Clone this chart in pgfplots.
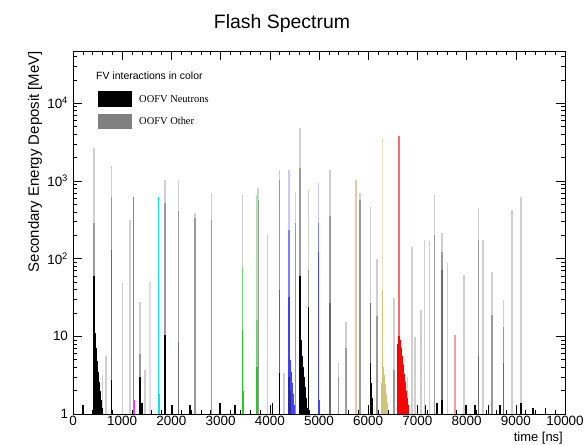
\documentclass[border=0pt]{standalone}
\usepackage{fontspec}
\setmainfont{Liberation Sans}
\newfontfamily\timesfont{Liberation Serif}
\usepackage{pgfplots}
\usepackage{pgfplotstable}
\pgfplotsset{compat=1.18}

\definecolor{lgray}{HTML}{CFCFCF}
\definecolor{mgray}{HTML}{9A9A9A}
\definecolor{dgray}{HTML}{6A6A6A}
\definecolor{legray}{HTML}{808080}
\definecolor{magentaR}{HTML}{FF33FF}
\definecolor{lavR}{HTML}{E6D8F6}
\definecolor{cyanR}{HTML}{00E5EE}
\definecolor{greenL}{HTML}{B0E4B0}
\definecolor{greenM}{HTML}{70D870}
\definecolor{greenD}{HTML}{22CC22}
\definecolor{blueL}{HTML}{C8C8FF}
\definecolor{blueM}{HTML}{8080FF}
\definecolor{blueD}{HTML}{4040FF}
\definecolor{navyR}{HTML}{2A2AA0}
\definecolor{tanR}{HTML}{F0C8A0}
\definecolor{khakiL}{HTML}{E6E2BC}
\definecolor{khakiD}{HTML}{CFC47A}
\definecolor{redL}{HTML}{FF6A6A}
\definecolor{redD}{HTML}{FF0000}
\definecolor{pinkR}{HTML}{F4A0A0}

% light gray: total height of each spike
\pgfplotstableread{
x y
427 2650
596 3.2
671 5.5
786 1550
1010 49
1159 315
1362 28
1464 3.7
1870 1040
2141 1040
2480 385
2820 700
3450 660
3760 810
3958 203
4195 1390
4290 3.4
4527 730
4615 4790
4785 770
5226 1390
5395 4.5
5551 15.5
5836 700
6050 465
6174 100
6526 31
6797 3
6886 143
6953 9.9
7069 22
7142 175
7244 170
7346 660
7496 213
7609 88
7949 62
8240 445
8330 175
8513 68
8749 29
8920 425
9108 630
}\lgraytab

\pgfplotstableread{
x y
427 290
786 630
1362 6
1870 525
2141 405
2480 335
2820 315
3770 570
4195 1040
4527 290
4615 1480
4785 72
5226 350
5395 3
5551 7
5836 570
6174 18
6526 3.7
7346 200
7496 120
8240 175
8513 19
8749 13
}\mgraytab

\pgfplotstableread{
x y
786 130
2141 8.2
4195 40
5226 27
6050 27
7496 72
8240 5.5
8749 4.5
}\dgraytab

\pgfplotstableread{
x y
200 1.3
427 60
447 11
467 7
487 4.8
507 3.5
527 2.6
547 2
567 1.5
587 1.2
786 2.7
1362 3
1400 1.4
1870 10.4
2010 1.3
2380 1.3
2990 1.4
3290 1.3
3740 1.3
4050 1.4
4195 3.4
4615 59
4635 9
4655 5.5
4675 4
4695 3
4715 2.2
4735 1.6
4755 1.2
4785 24
6050 4.5
6070 2.5
6090 1.6
7160 1.3
7400 1.4
7496 1.5
7990 1.3
8170 1.3
8440 1.3
8680 1.3
9108 1.4
9350 1.2
9600 1.2
}\blacktab

\pgfplotstableread{
x y
1227 630
1247 1.5
}\magtab
\pgfplotstableread{
x y
1566 50
}\lavtab
\pgfplotstableread{
x y
1735 625
1755 1.8
}\cyantab
\pgfplotstableread{
x y
3735 660
}\greenLtab
\pgfplotstableread{
x y
3450 79
3735 16
}\greenMtab
\pgfplotstableread{
x y
3450 12
3470 2
3735 4
}\greenDtab
\pgfplotstableread{
x y
4392 1390
4988 940
}\blueLtab
\pgfplotstableread{
x y
4392 235
4988 290
}\blueMtab
\pgfplotstableread{
x y
4392 32
4410 5
4430 3.5
4450 2.5
4470 1.8
4490 1.3
4988 120
5008 1.5
}\blueDtab
\pgfplotstableread{
x y
4392 3
4412 2
}\navytab
\pgfplotstableread{
x y
5754 1040
}\tantab
\pgfplotstableread{
x y
6288 3560
}\khakiLtab
\pgfplotstableread{
x y
6268 2.5
6288 40
6308 4
6328 3.2
6348 2.4
6368 1.8
6388 1.4
}\khakiDtab
\pgfplotstableread{
x y
6628 3800
}\redLtab
\pgfplotstableread{
x y
6598 3
6608 8
6628 10
6648 9
6668 7
6688 5.5
6708 4.3
6728 3.3
6748 2.6
6768 2.0
6788 1.6
6808 1.3
}\redDtab
\pgfplotstableread{
x y
7765 10.4
}\pinktab

\pgfplotsset{spike/.style={ycomb, line width=1.5bp, mark=none}}

\begin{document}
\begin{tikzpicture}
\useasboundingbox (0bp,0bp) rectangle (585bp,445bp);
\begin{axis}[
  at={(73bp,31bp)}, anchor=south west,
  scale only axis, width=492bp, height=363bp,
  xmin=0, xmax=10000, ymode=log, ymin=1, ymax=47000,
  scaled x ticks=false, scaled y ticks=false,
  xtick={0,1000,2000,3000,4000,5000,6000,7000,8000,9000,10000},
  xticklabels={0,1000,2000,3000,4000,5000,6000,7000,8000,9000,10000},
  minor x tick num=4,
  ytick={1,10,100,1000,10000},
  yticklabels={1,10,10\textsuperscript{2},10\textsuperscript{3},10\textsuperscript{4}},
  minor ytick={2,3,4,5,6,7,8,9,20,30,40,50,60,70,80,90,200,300,400,500,600,700,800,900,2000,3000,4000,5000,6000,7000,8000,9000,20000,30000,40000},
  tick align=inside, tick pos=both,
  major tick length=9bp, minor tick length=4.5bp,
  every tick/.style={black, line width=0.6bp},
  axis line style={line width=0.8bp},
  ticklabel style={font=\fontsize{13.5}{15}\selectfont},
  yticklabel style={xshift=-1.5bp},
  xticklabel style={yshift=1bp},
  clip=true,
]
\addplot[spike, draw=lgray] table {\lgraytab};
\addplot[spike, draw=mgray] table {\mgraytab};
\addplot[spike, draw=dgray] table {\dgraytab};
\addplot[spike, draw=black] table {\blacktab};
\addplot[spike, draw=magentaR] table {\magtab};
\addplot[spike, draw=lavR] table {\lavtab};
\addplot[spike, draw=cyanR] table {\cyantab};
\addplot[spike, draw=greenL] table {\greenLtab};
\addplot[spike, draw=greenM] table {\greenMtab};
\addplot[spike, draw=greenD] table {\greenDtab};
\addplot[spike, draw=blueL] table {\blueLtab};
\addplot[spike, draw=blueM] table {\blueMtab};
\addplot[spike, draw=blueD] table {\blueDtab};
\addplot[spike, draw=navyR] table {\navytab};
\addplot[spike, draw=tanR] table {\tantab};
\addplot[spike, draw=khakiL] table {\khakiLtab};
\addplot[spike, draw=khakiD] table {\khakiDtab};
\addplot[spike, draw=redL] table {\redLtab};
\addplot[spike, draw=redD] table {\redDtab};
\addplot[spike, draw=pinkR] table {\pinktab};
\end{axis}
% title and axis titles
\node[anchor=base, inner sep=0] at (282bp,416.7bp) {\fontsize{19.5}{22}\selectfont Flash Spectrum};
\node[anchor=east, rotate=90, inner sep=0] at (35bp,394bp) {\fontsize{15}{17}\selectfont Secondary Energy Deposit [MeV]};
\node[anchor=base east, inner sep=0] at (563bp,4bp) {\fontsize{13}{15}\selectfont time [ns]};
% legend
\node[anchor=west, inner sep=0] at (96bp,369bp) {\fontsize{10.5}{12}\selectfont FV interactions in color};
\fill[black] (98bp,338bp) rectangle (132bp,354bp);
\node[anchor=west, inner sep=0] at (139bp,346bp) {\timesfont\fontsize{10.5}{12}\selectfont OOFV Neutrons};
\fill[legray] (98bp,316bp) rectangle (132bp,331bp);
\node[anchor=west, inner sep=0] at (139bp,324bp) {\timesfont\fontsize{10.5}{12}\selectfont OOFV Other};
\end{tikzpicture}
\end{document}
